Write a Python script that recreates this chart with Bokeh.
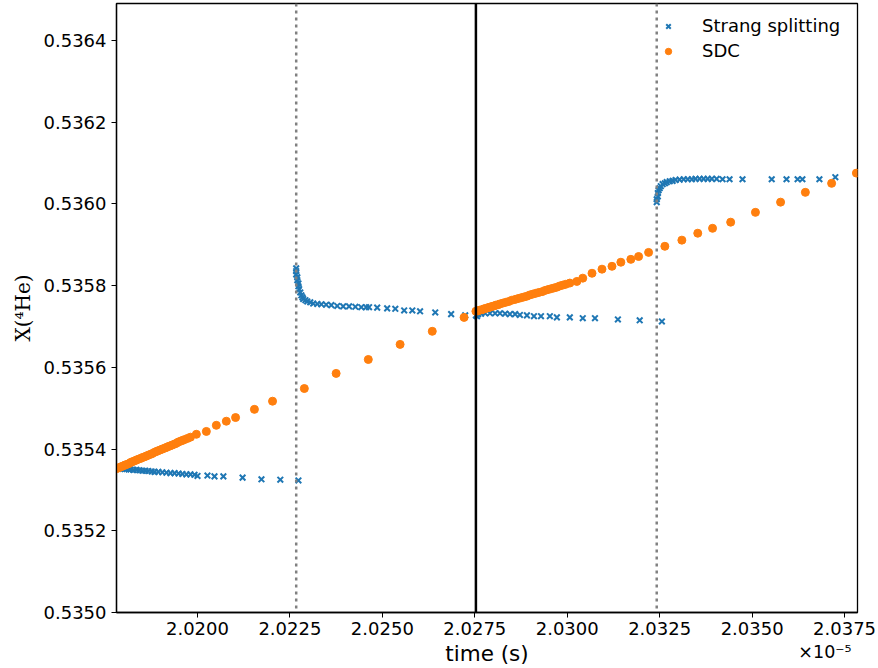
from bokeh.plotting import figure
from bokeh.models import Span, LinearAxis, FixedTicker, NumeralTickFormatter, Range1d
from bokeh.embed import file_html
from bokeh.resources import INLINE

# time in units of 1e-5 s
strang_t = [
    2.01781, 2.01787, 2.01792, 2.01797, 2.01803, 2.01808, 2.01814, 2.01819, 2.01827, 2.01835,
    2.01843, 2.01851, 2.01859, 2.01867, 2.01876, 2.01884, 2.01894, 2.01905, 2.01916, 2.01927,
    2.01938, 2.01949, 2.01959, 2.01970, 2.01981, 2.01992,
    2.02000, 2.02027, 2.02046, 2.02070, 2.02122, 2.02173, 2.02224, 2.02273,
    2.02267, 2.02267, 2.02267, 2.02270, 2.02270, 2.02273, 2.02273, 2.02275, 2.02278, 2.02281,
    2.02284, 2.02286, 2.02292, 2.02297, 2.02305, 2.02313, 2.02324, 2.02335, 2.02348, 2.02362,
    2.02378, 2.02394, 2.02410, 2.02427, 2.02443, 2.02456, 2.02464, 2.02486, 2.02513, 2.02535,
    2.02559, 2.02581, 2.02602, 2.02643, 2.02686, 2.02724, 2.02756,
    2.02753, 2.02759, 2.02767, 2.02778, 2.02791, 2.02805, 2.02818, 2.02832, 2.02845, 2.02859,
    2.02872, 2.02891, 2.02910, 2.02929, 2.02953, 2.02972, 2.03007, 2.03042, 2.03075, 2.03137,
    2.03196, 2.03256,
    2.03242, 2.03242, 2.03245, 2.03245, 2.03247, 2.03250, 2.03253, 2.03258, 2.03264, 2.03269,
    2.03277, 2.03285, 2.03293, 2.03304, 2.03315, 2.03326, 2.03337, 2.03347, 2.03358, 2.03369,
    2.03380, 2.03391, 2.03404, 2.03420, 2.03439, 2.03474, 2.03553, 2.03593, 2.03623, 2.03636,
    2.03682, 2.03725,
]
strang_x = [
    0.535353, 0.535352, 0.535352, 0.535352, 0.535351, 0.535351, 0.535350, 0.535350, 0.535349, 0.535349,
    0.535348, 0.535347, 0.535347, 0.535346, 0.535345, 0.535344, 0.535344, 0.535343, 0.535342, 0.535341,
    0.535341, 0.535340, 0.535339, 0.535338, 0.535338, 0.535337,
    0.535334, 0.535335, 0.535333, 0.535333, 0.535330, 0.535326, 0.535325, 0.535323,
    0.535842, 0.535835, 0.535827, 0.535820, 0.535813, 0.535805, 0.535798, 0.535791, 0.535783, 0.535776,
    0.535771, 0.535767, 0.535764, 0.535761, 0.535759, 0.535756, 0.535755, 0.535754, 0.535753, 0.535752,
    0.535750, 0.535749, 0.535749, 0.535748, 0.535747, 0.535747, 0.535747, 0.535746, 0.535744, 0.535743,
    0.535739, 0.535739, 0.535737, 0.535734, 0.535730, 0.535727, 0.535725,
    0.535727, 0.535730, 0.535731, 0.535732, 0.535732, 0.535732, 0.535732, 0.535731, 0.535730, 0.535730,
    0.535728, 0.535727, 0.535725, 0.535725, 0.535725, 0.535722, 0.535722, 0.535720, 0.535720, 0.535717,
    0.535715, 0.535712,
    0.536004, 0.536011, 0.536018, 0.536026, 0.536033, 0.536038, 0.536043, 0.536048, 0.536050, 0.536053,
    0.536055, 0.536056, 0.536058, 0.536059, 0.536060, 0.536060, 0.536060, 0.536061, 0.536061, 0.536061,
    0.536061, 0.536061, 0.536061, 0.536060, 0.536060, 0.536060, 0.536060, 0.536060, 0.536060, 0.536060,
    0.536060, 0.536065,
]

sdc_t = [
    2.01781, 2.01787, 2.01792, 2.01797, 2.01803, 2.01808, 2.01814, 2.01819, 2.01824, 2.01830,
    2.01835, 2.01840, 2.01846, 2.01851, 2.01857, 2.01862, 2.01867, 2.01873, 2.01878, 2.01884,
    2.01889, 2.01894, 2.01900, 2.01905, 2.01911, 2.01916, 2.01921, 2.01927, 2.01932, 2.01938,
    2.01943, 2.01948, 2.01954, 2.01959, 2.01965, 2.01973, 2.01981,
    2.01997, 2.02024, 2.02051, 2.02078, 2.02103, 2.02154, 2.02203, 2.02289, 2.02375, 2.02462,
    2.02548, 2.02635, 2.02721,
    2.02753, 2.02759, 2.02764, 2.02770, 2.02775, 2.02780, 2.02786, 2.02791, 2.02797, 2.02802,
    2.02807, 2.02813, 2.02818, 2.02826, 2.02834, 2.02842, 2.02850, 2.02859, 2.02867, 2.02875,
    2.02883, 2.02891, 2.02899, 2.02907, 2.02915, 2.02923, 2.02932, 2.02940, 2.02948, 2.02956,
    2.02964, 2.02972, 2.02980, 2.02988, 2.02996, 2.03007,
    2.03026, 2.03042, 2.03067, 2.03094, 2.03121, 2.03145, 2.03172, 2.03193, 2.03220, 2.03264,
    2.03310, 2.03353, 2.03393, 2.03442, 2.03509, 2.03577, 2.03644, 2.03715, 2.03782,
]
sdc_x = [
    0.535352, 0.535354, 0.535356, 0.535358, 0.535360, 0.535362, 0.535364, 0.535367, 0.535369, 0.535371,
    0.535373, 0.535375, 0.535377, 0.535379, 0.535381, 0.535383, 0.535385, 0.535387, 0.535389, 0.535392,
    0.535394, 0.535396, 0.535398, 0.535400, 0.535402, 0.535404, 0.535406, 0.535408, 0.535410, 0.535412,
    0.535414, 0.535417, 0.535419, 0.535421, 0.535423, 0.535426, 0.535429,
    0.535436, 0.535443, 0.535458, 0.535468, 0.535477, 0.535497, 0.535517, 0.535548, 0.535585, 0.535619,
    0.535656, 0.535688, 0.535722,
    0.535737, 0.535738, 0.535740, 0.535741, 0.535743, 0.535744, 0.535746, 0.535747, 0.535749, 0.535750,
    0.535752, 0.535753, 0.535755, 0.535757, 0.535759, 0.535761, 0.535764, 0.535766, 0.535768, 0.535770,
    0.535772, 0.535774, 0.535777, 0.535779, 0.535781, 0.535783, 0.535785, 0.535788, 0.535790, 0.535792,
    0.535794, 0.535796, 0.535799, 0.535801, 0.535803, 0.535806,
    0.535810, 0.535818, 0.535830, 0.535840, 0.535847, 0.535857, 0.535864, 0.535871, 0.535881, 0.535896,
    0.535911, 0.535928, 0.535940, 0.535955, 0.535979, 0.536004, 0.536028, 0.536050, 0.536075,
]

half_step_times = [2.02267, 2.03242]   # dotted grey lines
step_times = [2.02753]                 # solid black line
x_ticks = [2.0200, 2.0225, 2.0250, 2.0275, 2.0300, 2.0325, 2.0350, 2.0375]
y_ticks = [0.5350, 0.5352, 0.5354, 0.5356, 0.5358, 0.5360, 0.5362, 0.5364]
offset_text_pos = 2.03697
offset_text = "\u00d710\u207b\u2075"
x_limits = (2.01781, 2.03785)
y_limits = (0.5350, 0.53649)

p = figure(width=878, height=668, output_backend="svg", toolbar_location=None,
           x_range=Range1d(*x_limits), y_range=Range1d(*y_limits),
           min_border_left=116, min_border_right=21, min_border_top=3, min_border_bottom=56)
p.background_fill_color = "white"
p.border_fill_color = "white"
p.grid.visible = False
p.outline_line_color = "black"
p.outline_line_width = 1.3

p.scatter(strang_t, strang_x, marker="x", size=8, line_width=2, color="#1f77b4",
          legend_label="Strang splitting")
p.scatter(sdc_t, sdc_x, marker="circle", size=8, color="#ff7f0e", line_color="#ff7f0e",
          legend_label="SDC")

for t in half_step_times:
    p.add_layout(Span(location=t, dimension="height", line_color="gray",
                      line_width=2.5, line_dash="3 4"))
for t in step_times:
    p.add_layout(Span(location=t, dimension="height", line_color="black", line_width=2.5))

xax = p.below[0]
yax = p.left[0]
for ax in (xax, yax):
    ax.major_tick_out = 5
    ax.major_tick_in = 0
    ax.minor_tick_line_color = None
    ax.axis_line_width = 1.3
    ax.axis_line_color = "black"
    ax.major_tick_line_color = "black"
    ax.major_label_text_font = "DejaVu Sans"
    ax.major_label_text_font_size = "18px"
    ax.major_label_text_color = "black"
    ax.formatter = NumeralTickFormatter(format="0.0000")

xax.ticker = FixedTicker(ticks=x_ticks)
yax.ticker = FixedTicker(ticks=y_ticks)
xax.major_label_standoff = 4
yax.major_label_standoff = 5

yax.axis_label = "X(\u2074He)"
yax.axis_label_text_font = "DejaVu Serif"
yax.axis_label_text_font_size = "20px"
yax.axis_label_text_font_style = "normal"
yax.axis_label_text_color = "black"
yax.axis_label_standoff = 6

# second bottom axis: carries the axis title and the x10^-5 offset text on one line
lab_ax = LinearAxis(ticker=FixedTicker(ticks=[offset_text_pos]),
                    major_label_overrides={offset_text_pos: offset_text})
lab_ax.axis_line_color = None
lab_ax.major_tick_line_color = None
lab_ax.minor_tick_line_color = None
lab_ax.major_tick_out = 0
lab_ax.major_tick_in = 0
lab_ax.major_label_standoff = 4
lab_ax.major_label_text_font = "DejaVu Sans"
lab_ax.major_label_text_font_size = "17.5px"
lab_ax.major_label_text_color = "black"
lab_ax.axis_label = "time (s)"
lab_ax.axis_label_text_font = "DejaVu Sans"
lab_ax.axis_label_text_font_size = "21.5px"
lab_ax.axis_label_text_font_style = "normal"
lab_ax.axis_label_text_color = "black"
lab_ax.axis_label_standoff = -24
p.add_layout(lab_ax, "below")

leg = p.legend[0]
leg.location = "top_right"
leg.border_line_alpha = 0
leg.background_fill_alpha = 0
leg.label_text_font = "DejaVu Sans"
leg.label_text_font_size = "18px"
leg.label_text_color = "black"
leg.glyph_width = 20
leg.glyph_height = 16
leg.label_height = 16
leg.label_width = 143
leg.label_standoff = 24
leg.spacing = 4
leg.padding = 5
leg.margin = 7

open("out.html", "w").write(file_html(p, INLINE))
